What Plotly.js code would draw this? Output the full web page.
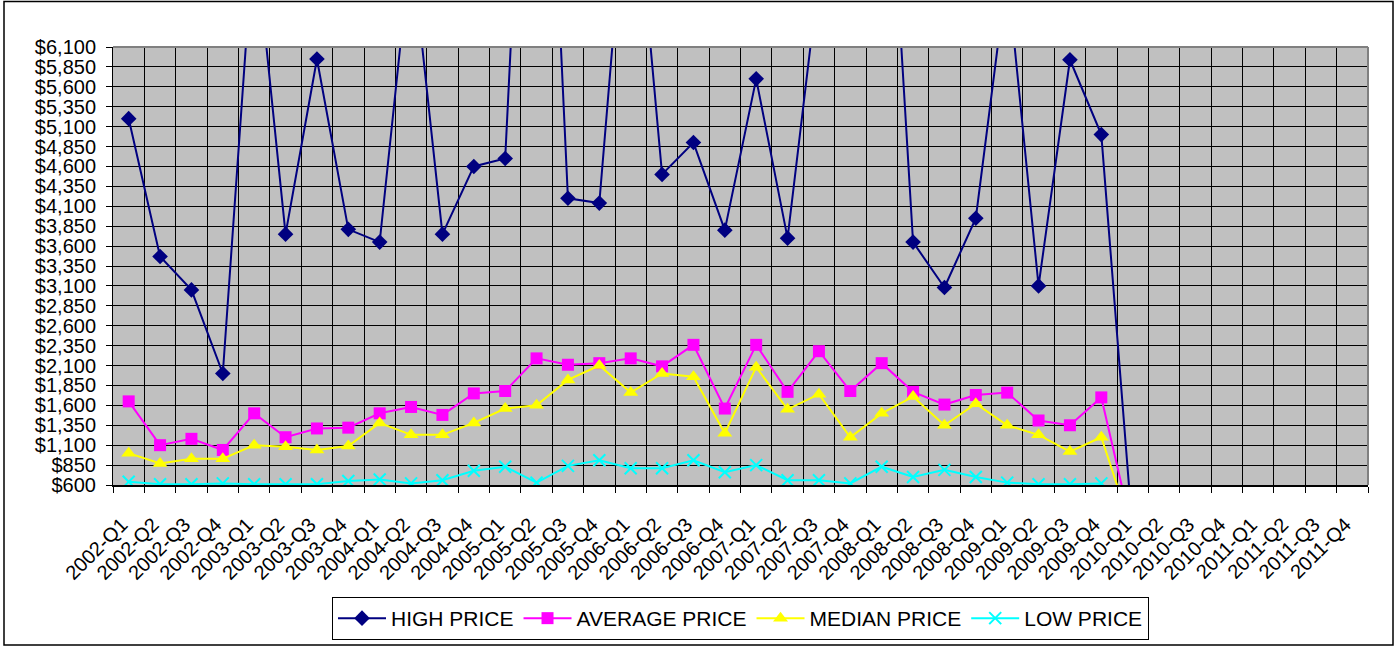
<!DOCTYPE html>
<html>
<head>
<meta charset="utf-8">
<script src="https://cdn.plot.ly/plotly-3.0.1.min.js"></script>
<style>
html,body{margin:0;padding:0;background:#fff;}
#chart{width:1395px;height:647px;}
</style>
</head>
<body>
<div id="chart"></div>
<script>
var quarters = [
  "2002-Q1","2002-Q2","2002-Q3","2002-Q4",
  "2003-Q1","2003-Q2","2003-Q3","2003-Q4",
  "2004-Q1","2004-Q2","2004-Q3","2004-Q4",
  "2005-Q1","2005-Q2","2005-Q3","2005-Q4",
  "2006-Q1","2006-Q2","2006-Q3","2006-Q4",
  "2007-Q1","2007-Q2","2007-Q3","2007-Q4",
  "2008-Q1","2008-Q2","2008-Q3","2008-Q4",
  "2009-Q1","2009-Q2","2009-Q3","2009-Q4",
  "2010-Q1","2010-Q2","2010-Q3","2010-Q4",
  "2011-Q1","2011-Q2","2011-Q3","2011-Q4"
];

var highPrice = [5200,3470,3050,2000, 7600,3750,5950,3810, 3650,7400,3750,4600,
  4700,12700,4200,4140, 8880,4500,4900,3800, 5700,3700,7000,8500,
  10200,3650,3080,3950, 7040,3100,5940,5000, 0,null,null,null, null,null,null,null];

var averagePrice = [1650,1100,1180,1040, 1500,1200,1310,1320, 1500,1580,1480,1750,
  1780,2190,2110,2130, 2190,2090,2360,1560, 2360,1770,2280,1780,
  2130,1770,1610,1730, 1760,1410,1350,1700, 0,null,null,null, null,null,null,null];

var medianPrice = [1000,870,930,930, 1100,1080,1040,1090, 1380,1230,1230,1380,
  1560,1600,1920,2100, 1760,2000,1960,1250, 2080,1550,1740,1200,
  1500,1710,1350,1620, 1350,1230,1020,1200, 0,null,null,null, null,null,null,null];

var lowPrice = [640,610,610,620, 610,610,610,650, 670,620,660,780,
  830,630,840,910, 810,810,910,760, 850,660,660,620,
  830,700,790,700, 630,610,610,620, 0,null,null,null, null,null,null,null];

var seriesNames = ["HIGH PRICE","AVERAGE PRICE","MEDIAN PRICE","LOW PRICE"];

var FONT = "Liberation Sans, Arial, Helvetica, sans-serif";

function tr(name, y, color, symbol, size) {
  return {
    type: "scatter", mode: "lines+markers", name: name,
    x: quarters, y: y, connectgaps: false,
    line: {color: color, width: 2},
    marker: {color: color, symbol: symbol, size: size, line: {width: 0}}
  };
}

var data = [
  tr(seriesNames[0], highPrice, "#000080", "diamond", 12),
  tr(seriesNames[1], averagePrice, "#FF00FF", "square", 12),
  tr(seriesNames[2], medianPrice, "#FFFF00", "triangle-up", 13),
  {
    type: "scatter", mode: "lines+markers", name: seriesNames[3],
    x: quarters, y: lowPrice,
    line: {color: "#00FFFF", width: 2},
    marker: {color: "#00FFFF", symbol: "x-thin", size: 12, line: {color: "#00FFFF", width: 2}}
  }
];

var L = 113, R = 27, T = 47, B = 162;
var pw = 1395 - L - R, ph = 647 - T - B;
function px(x){ return (x - L) / pw; }
function py(y){ return (647 - B - y) / ph; }

var layout = {
  width: 1395, height: 647,
  margin: {l: L, r: R, t: T, b: B, autoexpand: false},
  paper_bgcolor: "#FFFFFF",
  plot_bgcolor: "#C0C0C0",
  font: {family: FONT, size: 20, color: "#000"},
  showlegend: true,
  legend: {
    orientation: "h", x: 0.5, xanchor: "center", y: py(597), yanchor: "top",
    bgcolor: "#FFFFFF", bordercolor: "#000", borderwidth: 1,
    font: {family: FONT, size: 21, color: "#000"},
    itemwidth: 48,
    traceorder: "normal"
  },
  xaxis: {
    type: "category",
    categoryorder: "array", categoryarray: quarters,
    range: [-0.5, 39.5],
    tickson: "boundaries",
    tickangle: -45,
    tickfont: {family: FONT, size: 20, color: "#000"},
    ticklabelstandoff: 18,
    ticklabelshift: -7,
    automargin: false,
    showgrid: true, gridcolor: "#000", gridwidth: 1,
    showline: true, linecolor: "#000", linewidth: 2,
    ticks: "outside", ticklen: 6, tickcolor: "#000", tickwidth: 1,
    zeroline: false, fixedrange: true
  },
  yaxis: {
    range: [600, 6100],
    tick0: 600, dtick: 250,
    tickprefix: "$", tickformat: ",d",
    tickfont: {family: FONT, size: 20, color: "#000"},
    automargin: false,
    showgrid: true, gridcolor: "#000", gridwidth: 1,
    showline: true, linecolor: "#000", linewidth: 1,
    ticks: "outside", ticklen: 6, tickcolor: "#000", tickwidth: 1,
    ticklabelstandoff: 6,
    zeroline: false, fixedrange: true
  },
  shapes: [
    {type: "line", xref: "paper", yref: "paper", x0: 0, x1: 1, y0: 1, y1: 1,
     line: {color: "#808080", width: 2}, layer: "above"},
    {type: "line", xref: "paper", yref: "paper", x0: 1, x1: 1, y0: 0, y1: 1,
     line: {color: "#808080", width: 2}, layer: "above"},
    {type: "rect", xref: "paper", yref: "paper",
     x0: px(4), x1: px(1393), y0: py(645), y1: py(1.5),
     line: {color: "#000", width: 1.5}, fillcolor: "rgba(0,0,0,0)", layer: "above"}
  ]
};

Plotly.newPlot("chart", data, layout, {displayModeBar: false, staticPlot: true});
</script>
</body>
</html>
